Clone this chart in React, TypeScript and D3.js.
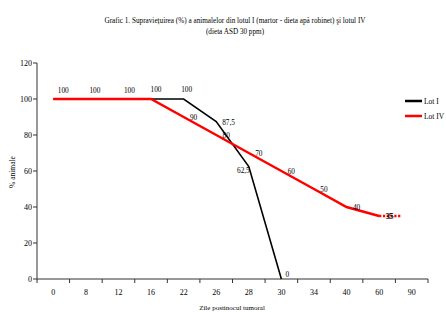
import React from "react";
import * as d3 from "d3";

const categories = ["0", "8", "12", "16", "22", "26", "28", "30", "34", "40", "60", "90"];
const lotI: [string, number][] = [["0", 100], ["8", 100], ["12", 100], ["16", 100], ["22", 100], ["26", 87.5], ["28", 62.5], ["30", 0]];
const lotIV: [string, number][] = [["0", 100], ["8", 100], ["12", 100], ["16", 100], ["22", 90], ["26", 80], ["28", 70], ["30", 60], ["34", 50], ["40", 40], ["60", 35]];
const lotIVLabelFrom = "22";
const yTicks = [0, 20, 40, 60, 80, 100, 120];
const fmt = (v: number) => String(v).replace(".", ",");

export default function App() {
  const W = 446, H = 312;
  const x = d3.scaleBand<string>().domain(categories).range([37, 428]).padding(0);
  const y = d3.scaleLinear().domain([0, 120]).range([279, 63]);
  const cx = (c: string) => (x(c) as number) + x.bandwidth() / 2;
  const line = d3.line<[string, number]>().x(d => cx(d[0])).y(d => y(d[1]));
  const font = "'Liberation Serif', 'Times New Roman', serif";
  const boundaries = categories.map(c => x(c) as number).concat([428]);
  // label offsets for Lot I (style)
  const blackOff: [number, number, string][] = [
    [10, -6, "middle"], [9, -6, "middle"], [11, -6, "middle"], [5, -7, "middle"], [3, -7, "middle"],
    [6, 3, "start"], [1, 6, "end"], [4, -2, "start"],
  ];
  const last = lotIV[lotIV.length - 1];
  return (
    <svg width={W} height={H} style={{ display: "block", position: "absolute", left: 0, top: 0 }} fontFamily={font}>
      <rect width={W} height={H} fill="#fff" />
      <text x={235} y={23} fontSize={7.2} textAnchor="middle" textLength={261} lengthAdjust="spacingAndGlyphs">
        Grafic 1. Supraviețuirea (%) a animalelor din lotul I (martor - dieta apă robinet) şi lotul IV
      </text>
      <text x={235} y={34} fontSize={7.2} textAnchor="middle">(dieta ASD 30 ppm)</text>

      {/* axes */}
      <line x1={37} x2={37} y1={63} y2={279} stroke="#333" strokeWidth={1} />
      <line x1={37} x2={428} y1={279} y2={279} stroke="#333" strokeWidth={1} />
      {yTicks.map(t => (
        <g key={t}>
          <line x1={33} x2={37} y1={y(t)} y2={y(t)} stroke="#333" />
          <text x={32} y={y(t) + 3} fontSize={8} textAnchor="end">{t}</text>
        </g>
      ))}
      {boundaries.map((b, i) => (
        <line key={i} x1={b} x2={b} y1={279} y2={283} stroke="#333" />
      ))}
      {categories.map(c => (
        <text key={c} x={cx(c)} y={295} fontSize={8} textAnchor="middle">{c}</text>
      ))}
      <text transform={`translate(15,172) rotate(-90)`} fontSize={7.5} textAnchor="middle">% animale</text>
      <text x={232} y={310} fontSize={7} textAnchor="middle">Zile postinocul tumoral</text>

      {/* lines */}
      <path d={line(lotI) || ""} fill="none" stroke="#000" strokeWidth={1.6} />
      <path d={line(lotIV) || ""} fill="none" stroke="#f00" strokeWidth={2.5} />
      <line x1={cx(last[0])} x2={cx(last[0]) + x.bandwidth() * 0.65} y1={y(last[1])} y2={y(last[1])}
        stroke="#f00" strokeWidth={2.5} strokeDasharray="2.2,1.6" />

      {/* labels */}
      {lotI.map((d, i) => (
        <text key={"b" + i} x={cx(d[0]) + blackOff[i][0]} y={y(d[1]) + blackOff[i][1]} fontSize={7.3}
          textAnchor={blackOff[i][2] as any}>{fmt(d[1])}</text>
      ))}
      {lotIV.slice(lotIV.findIndex(d => d[0] === lotIVLabelFrom)).map((d, i) => (
        <text key={"r" + i} x={cx(d[0]) + 10} y={y(d[1]) + 2.5} fontSize={7.3} textAnchor="middle">{fmt(d[1])}</text>
      ))}
      <text x={cx(last[0]) + 11} y={y(last[1]) + 2.5} fontSize={7.3} textAnchor="middle">{fmt(last[1])}</text>

      {/* legend */}
      <line x1={405} x2={422} y1={101} y2={101} stroke="#000" strokeWidth={2.5} />
      <text x={424} y={104} fontSize={7.5}>Lot I</text>
      <line x1={405} x2={422} y1={116} y2={116} stroke="#f00" strokeWidth={2.5} />
      <text x={424} y={119} fontSize={7.5}>Lot IV</text>
    </svg>
  );
}
